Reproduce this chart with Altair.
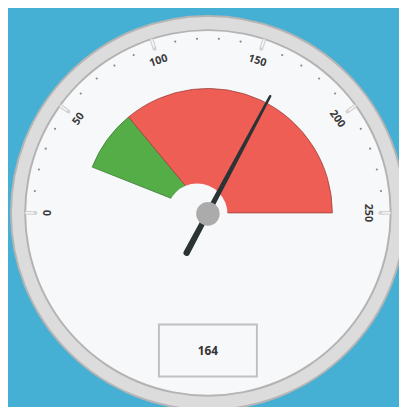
import math
import altair as alt
import pandas as pd

# ---- data ----
min_value, max_value = 0, 250
major_ticks = [0, 50, 100, 150, 200, 250]
minor_ticks = [10, 20, 30, 40, 60, 70, 80, 90, 110, 120, 130, 140,
               160, 170, 180, 190, 210, 220, 230, 240]
band_from = [30, 70]
band_to = [70, 250]
band_color = ["#55ad48", "#ee5e55"]
band_stroke = ["#3d7a33", "#9a4039"]
needle_value = 164

# ---- layout ----
W, H = 399, 399
CX, CY = 204, 205
FACE = "#f7f8fa"
SPAN = max_value - min_value

xs = alt.Scale(domain=[0, W], range=[0, W], nice=False, zero=False)
ys = alt.Scale(domain=[0, H], range=[0, H], nice=False, zero=False)


def polar(chart, r_expr, v_field="v"):
    a = f"PI - (datum.{v_field} - {min_value}) / {SPAN} * PI"
    return chart.transform_calculate(
        a=a
    ).transform_calculate(
        px=f"{CX} + ({r_expr}) * cos(datum.a)",
        py=f"{CY} - ({r_expr}) * sin(datum.a)",
    )


def disc(r, fill, stroke=None, sw=0):
    # Vega circle symbol: radius = sqrt(size) / 2
    kw = dict(size=4 * r * r, color=fill, opacity=1, fillOpacity=1)
    if stroke:
        kw.update(stroke=stroke, strokeWidth=sw)
    return alt.Chart(pd.DataFrame({"k": [0]})).mark_circle(**kw)


ring = disc(201, "#dcdcdc", "#b5b5b5", 2).encode(x=alt.value(CX), y=alt.value(CY))
ring_line = disc(187.5, "#b3b3b3").encode(x=alt.value(CX), y=alt.value(CY))
face = disc(185.5, FACE).encode(x=alt.value(CX), y=alt.value(CY))

minor_df = pd.DataFrame({"v": minor_ticks})
minor = polar(alt.Chart(minor_df), "178").mark_circle(size=5, color="#8a8a8a", opacity=1).encode(
    x=alt.X("px:Q", scale=xs, axis=None), y=alt.Y("py:Q", scale=ys, axis=None)
)

major_df = pd.DataFrame({"v": major_ticks})
major = alt.Chart(major_df).transform_calculate(
    a=f"PI - (datum.v - {min_value}) / {SPAN} * PI"
).transform_calculate(
    x1=f"{CX} + 176 * cos(datum.a)", y1=f"{CY} - 176 * sin(datum.a)",
    x2=f"{CX} + 185 * cos(datum.a)", y2=f"{CY} - 185 * sin(datum.a)",
).mark_rule(color="#d2d2d2", strokeWidth=4, strokeCap="round").encode(
    x=alt.X("x1:Q", scale=xs, axis=None), y=alt.Y("y1:Q", scale=ys, axis=None),
    x2="x2:Q", y2="y2:Q",
)
major_in = alt.Chart(major_df).transform_calculate(
    a=f"PI - (datum.v - {min_value}) / {SPAN} * PI"
).transform_calculate(
    x1=f"{CX} + 177.5 * cos(datum.a)", y1=f"{CY} - 177.5 * sin(datum.a)",
    x2=f"{CX} + 186 * cos(datum.a)", y2=f"{CY} - 186 * sin(datum.a)",
).mark_rule(color=FACE, strokeWidth=1.5).encode(
    x=alt.X("x1:Q", scale=xs, axis=None), y=alt.Y("y1:Q", scale=ys, axis=None),
    x2="x2:Q", y2="y2:Q",
)

labels = polar(alt.Chart(major_df), "163").transform_calculate(
    ang=f"((datum.v - {min_value}) / {SPAN} * 180 + 270) % 360",
    lbl="format(datum.v, 'd')",
).mark_text(font="Open Sans", fontSize=11, fontWeight="bold", color="#3a3a3a",
            align="center", baseline="middle").encode(
    x=alt.X("px:Q", scale=xs, axis=None), y=alt.Y("py:Q", scale=ys, axis=None),
    text="lbl:N", angle=alt.Angle("ang:Q", scale=None),
)

band_df = pd.DataFrame({"s": band_from, "e": band_to, "c": band_color, "sc": band_stroke})
theta_scale = alt.Scale(domain=[min_value, max_value], range=[-math.pi / 2, math.pi / 2])
bands = alt.Chart(band_df).mark_arc(radius=127, radius2=0, strokeWidth=0.8).encode(
    theta=alt.Theta("s:Q", scale=theta_scale, stack=None),
    theta2="e:Q",
    color=alt.Color("c:N", scale=None),
    stroke=alt.Stroke("sc:N", scale=None),
    x=alt.value(CX), y=alt.value(CY),
)
hole = disc(31, FACE).encode(x=alt.value(CX - 11), y=alt.value(CY + 1))

needle_df = pd.DataFrame({"v": [needle_value, needle_value], "r": [-46, 135],
                          "w": [6.5, 2.5], "o": [0, 1]})
needle = polar(alt.Chart(needle_df), "datum.r").mark_trail(color="#2c3335").encode(
    x=alt.X("px:Q", scale=xs, axis=None), y=alt.Y("py:Q", scale=ys, axis=None),
    size=alt.Size("w:Q", scale=None), order=alt.Order("o:Q"),
)
hub = disc(12, "#ababab").encode(x=alt.value(CX), y=alt.value(CY + 1))

box = alt.Chart(pd.DataFrame({"k": [0]})).mark_rect(
    fill=FACE, stroke="#c0c0c0", strokeWidth=2
).encode(x=alt.value(154), x2=alt.value(254), y=alt.value(319), y2=alt.value(372))
value_text = alt.Chart(pd.DataFrame({"v": [needle_value]})).mark_text(
    font="Open Sans", fontSize=12, fontWeight="bold", color="#333333"
).encode(text="v:Q", x=alt.value(CX), y=alt.value(346))

chart = alt.layer(
    ring, ring_line, face, minor, major, major_in, labels, bands, hole,
    needle, hub, box, value_text
).properties(
    width=W, height=H,
    autosize=alt.AutoSizeParams(type="none"),
    padding=0,
    background="#45afd4",
).configure_view(stroke=None)

chart.save("out.html", embed_options={"renderer": "svg", "actions": False})
